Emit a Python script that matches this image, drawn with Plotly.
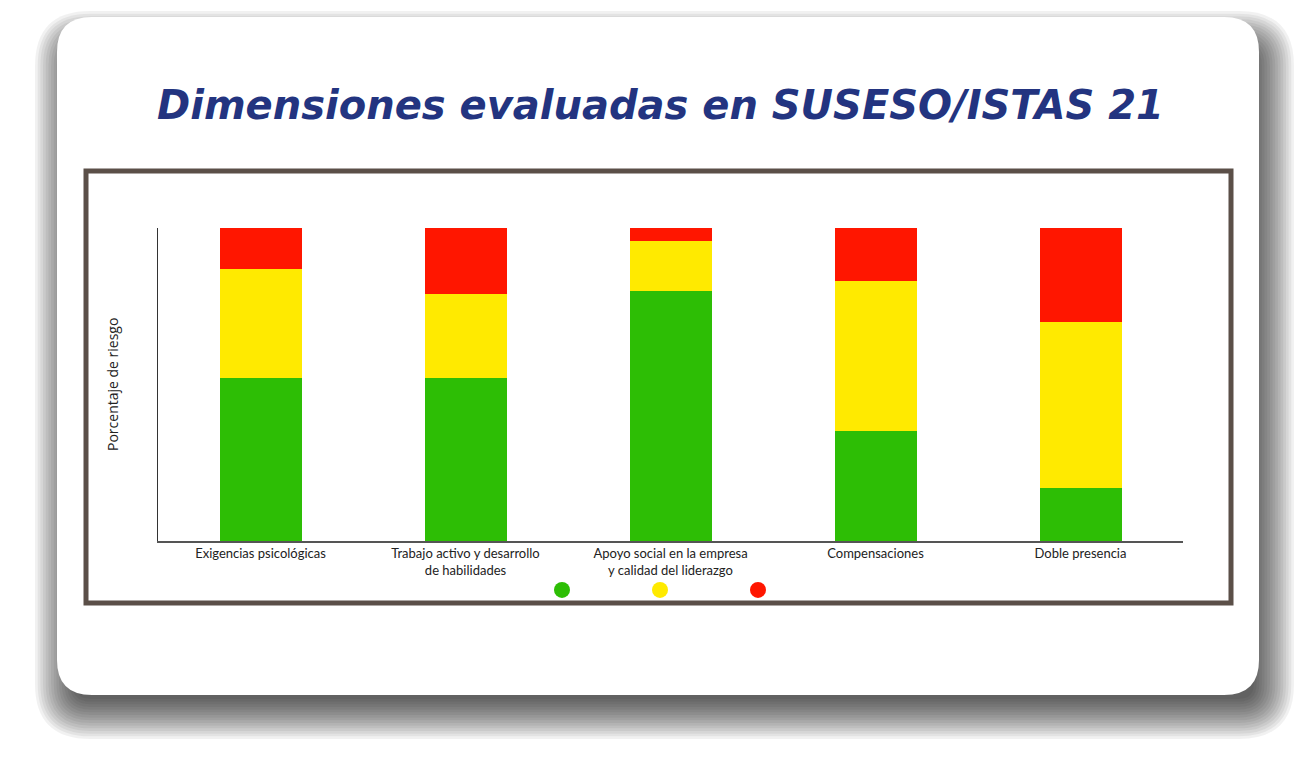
import plotly.graph_objects as go

# datos (porcentaje de riesgo por dimension)
dimensiones = ["Exigencias psicológicas",
               "Trabajo activo y desarrollo<br>de habilidades",
               "Apoyo social en la empresa<br>y calidad del liderazgo",
               "Compensaciones",
               "Doble presencia"]
riesgo_bajo = [52, 52, 80, 35, 17]
riesgo_medio = [35, 27, 16, 48, 53]
riesgo_alto = [13, 21, 4, 17, 30]

verde = "rgb(45,190,5)"
amarillo = "rgb(255,234,0)"
rojo = "rgb(255,22,0)"

OFF = 8  # margen del body de la pagina
W, H = 1300, 752
L, R, T, B = 158, 1183, 228, 541  # area del grafico en pixeles de pantalla


def px_x(p):
    return (p - L) / (R - L)


def px_y(p):
    return (B - p) / (B - T)


def rect_redondo(x0, y0, x1, y1, r):
    # path de rectangulo con esquinas redondeadas (pixeles -> paper)
    r = max(r, 1)
    pts = [
        ("M", (x0 + r, y0)), ("L", (x1 - r, y0)), ("Q", (x1, y0), (x1, y0 + r)),
        ("L", (x1, y1 - r)), ("Q", (x1, y1), (x1 - r, y1)),
        ("L", (x0 + r, y1)), ("Q", (x0, y1), (x0, y1 - r)),
        ("L", (x0, y0 + r)), ("Q", (x0, y0), (x0 + r, y0)),
    ]
    s = ""
    for p in pts:
        s += p[0] + " " + " ".join("%.5f,%.5f" % (px_x(a), px_y(b)) for a, b in p[1:]) + " "
    return s + "Z"


fig = go.Figure()
fig.add_trace(go.Bar(x=dimensiones, y=riesgo_bajo, name="Bajo", marker_color=verde,
                     marker_line_width=0, width=0.4, showlegend=False))
fig.add_trace(go.Bar(x=dimensiones, y=riesgo_medio, name="Medio", marker_color=amarillo,
                     marker_line_width=0, width=0.4, showlegend=False))
fig.add_trace(go.Bar(x=dimensiones, y=riesgo_alto, name="Alto", marker_color=rojo,
                     marker_line_width=0, width=0.4, showlegend=False))

# leyenda solo con circulos
for c in [verde, amarillo, rojo]:
    fig.add_trace(go.Scatter(x=[None], y=[None], mode="markers", name="",
                             marker=dict(color=c, size=18, symbol="circle")))

shapes = []
# sombra difusa de la tarjeta
n = 16
for i in range(n):
    e = -20 + 40 * i / (n - 1)
    shapes.append(dict(type="path", xref="paper", yref="paper", layer="below",
                       path=rect_redondo(55 - e, 31 - e, 1274 + e, 719 + e, 35 + e),
                       fillcolor="rgba(0,0,0,0.056)", line_width=0))
# tarjeta blanca
shapes.append(dict(type="path", xref="paper", yref="paper", layer="below",
                   path=rect_redondo(57, 17, 1259, 695, 35),
                   fillcolor="white", line_width=0))
# marco del grafico
shapes.append(dict(type="rect", xref="paper", yref="paper", layer="below",
                   x0=px_x(86), x1=px_x(1231), y0=px_y(171), y1=px_y(603),
                   fillcolor="white", line=dict(color="#5b4f48", width=5)))

fig.update_layout(
    width=W, height=H,
    margin=dict(l=L - OFF, r=W + OFF - R, t=T - OFF, b=H + OFF - B, pad=0),
    paper_bgcolor="white",
    plot_bgcolor="rgba(0,0,0,0)",
    barmode="stack",
    shapes=shapes,
    font=dict(family="Lato", size=13, color="#222"),
    xaxis=dict(showline=True, linecolor="#555", linewidth=1.5, ticks="",
               showgrid=False, tickfont=dict(family="Lato", size=13, color="#222"),
               categoryorder="array", categoryarray=dimensiones),
    yaxis=dict(range=[0, 100], showline=True, linecolor="#333", linewidth=1,
               showticklabels=False, ticks="", showgrid=False, zeroline=False),
    legend=dict(orientation="h", x=px_x(542), y=px_y(590), xanchor="left", yanchor="middle",
                entrywidth=53, entrywidthmode="pixels", itemsizing="trace",
                traceorder="normal", bgcolor="rgba(0,0,0,0)"),
    annotations=[
        dict(text="<b><i>Dimensiones evaluadas en SUSESO/ISTAS 21</i></b>",
             xref="paper", yref="paper", x=px_x(660), y=px_y(105),
             xanchor="center", yanchor="middle", showarrow=False,
             font=dict(family="DejaVu Sans", size=40, color="rgb(35,52,128)")),
        dict(text="Porcentaje de riesgo", textangle=-90,
             xref="paper", yref="paper", x=px_x(112), y=px_y(385),
             xanchor="center", yanchor="middle", showarrow=False,
             font=dict(family="Open Sans", size=14, color="#222")),
    ],
)

fig.write_html("out.html")
